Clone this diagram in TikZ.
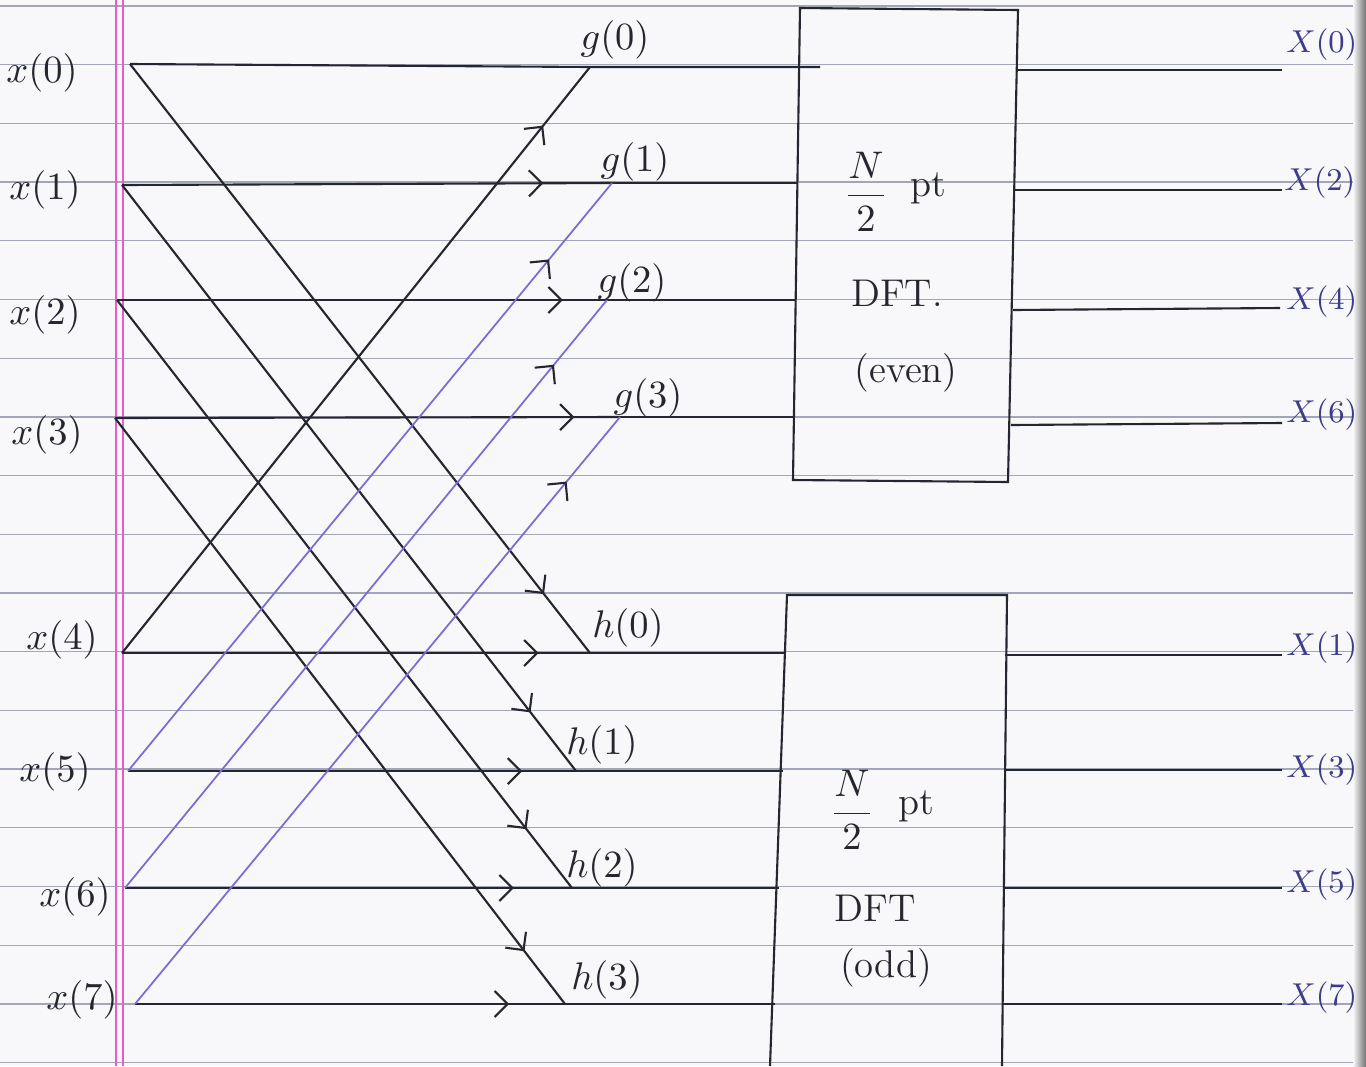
\documentclass[tikz,border=0pt]{standalone}
\usetikzlibrary{arrows.meta,decorations.markings}
\definecolor{ink}{HTML}{262630}
\definecolor{vio}{HTML}{7A6CD8}
\definecolor{rulec}{HTML}{A3A6B8}
\definecolor{marginc}{HTML}{E85CC8}
\definecolor{paper}{HTML}{F8F7F9}
\definecolor{blueink}{HTML}{3C3C8C}
\tikzset{
  wire/.style={draw=ink,line width=0.6pt},
  vwire/.style={draw=vio,line width=0.5pt},
  arrat/.style={postaction={decorate},decoration={markings,mark=at position #1 with {\arrow[ink,line width=0.6pt]{Straight Barb[length=1.3mm,width=2.6mm]}}}},
  lbl/.style={font=\fontsize{11}{13}\selectfont,text=ink,inner sep=1pt},
  olbl/.style={font=\fontsize{9}{11}\selectfont,text=blueink,anchor=west,inner sep=0.5pt},
  boxline/.style={draw=ink,line width=0.6pt},
  ruled/.style={draw=rulec,line width=0.35pt},
  marg/.style={draw=marginc,line width=0.45pt}
}
\begin{document}
\begin{tikzpicture}[x=0.01cm,y=-0.01cm]
\useasboundingbox (0,0) rectangle (1366,1066);
\fill[paper] (0,0) rectangle (1366,1066);
% notebook ruling
\foreach \k in {0,...,18}{
  \draw[ruled] (0,{6+58.7*\k}) -- (1366,{6+58.7*\k});
}
\draw[marg] (116,0) -- (116,1066);
\draw[marg] (123,0) -- (123,1066);
\shade[left color=paper,right color=black!55] (1353,0) rectangle (1366,1066);

% input points
\coordinate (i0) at (130,64);
\coordinate (i1) at (122,185);
\coordinate (i2) at (117,300);
\coordinate (i3) at (115,418);
\coordinate (i4) at (122,653);
\coordinate (i5) at (128,771);
\coordinate (i6) at (125,888);
\coordinate (i7) at (135,1004);
% g and h points
\coordinate (g0) at (590,67);
\coordinate (g1) at (612,183);
\coordinate (g2) at (607,300);
\coordinate (g3) at (620,417);
\coordinate (h0) at (590,653);
\coordinate (h1) at (576,771);
\coordinate (h2) at (572,888);
\coordinate (h3) at (565,1004);
% box corners
\coordinate (EA) at (800,8);
\coordinate (EB) at (1018,10);
\coordinate (EC) at (1008,482);
\coordinate (ED) at (793,480);
\coordinate (OA) at (787,595);
\coordinate (OB) at (1007,595);
\coordinate (OC) at (1002,1066);
\coordinate (OD) at (770,1066);
% box inputs
\coordinate (e0) at (820,67);
\coordinate (e1) at (797,183);
\coordinate (e2) at (795,300);
\coordinate (e3) at (794,417);
\coordinate (o0) at (786,653);
\coordinate (o1) at (783,771);
\coordinate (o2) at (779,888);
\coordinate (o3) at (775,1004);
% box outputs
\coordinate (s0) at (1017,70);
\coordinate (s2) at (1015,190);
\coordinate (s4) at (1013,310);
\coordinate (s6) at (1011,425);
\coordinate (s1) at (1005,655);
\coordinate (s3) at (1004,770);
\coordinate (s5) at (1003,888);
\coordinate (s7) at (1002,1004);
\coordinate (t0) at (1282,70);
\coordinate (t2) at (1282,190);
\coordinate (t4) at (1280,308);
\coordinate (t6) at (1282,423);
\coordinate (t1) at (1282,655);
\coordinate (t3) at (1282,770);
\coordinate (t5) at (1282,888);
\coordinate (t7) at (1282,1004);

% boxes
\draw[boxline] (EA) -- (EB) -- (EC) -- (ED) -- cycle;
\draw[boxline] (OD) -- (OA) -- (OB) -- (OC);

% horizontals to g
\draw[wire] (i0) -- (g0) -- (e0);
\draw[wire,arrat=0.86] (i1) -- (g1);
\draw[wire] (g1) -- (e1);
\draw[wire,arrat=0.91] (i2) -- (g2);
\draw[wire] (g2) -- (e2);
\draw[wire,arrat=0.91] (i3) -- (g3);
\draw[wire] (g3) -- (e3);
% horizontals to h
\draw[wire,arrat=0.89] (i4) -- (h0);
\draw[wire] (h0) -- (o0);
\draw[wire,arrat=0.88] (i5) -- (h1);
\draw[wire] (h1) -- (o1);
\draw[wire,arrat=0.87] (i6) -- (h2);
\draw[wire] (h2) -- (o2);
\draw[wire,arrat=0.87] (i7) -- (h3);
\draw[wire] (h3) -- (o3);
% diagonals down
\draw[wire,arrat=0.9] (i0) -- (h0);
\draw[wire,arrat=0.9] (i1) -- (h1);
\draw[wire,arrat=0.9] (i2) -- (h2);
\draw[wire,arrat=0.91] (i3) -- (h3);
% diagonals up
\draw[wire,arrat=0.9] (i4) -- (g0);
\draw[vwire,arrat=0.87] (i5) -- (g1);
\draw[vwire,arrat=0.89] (i6) -- (g2);
\draw[vwire,arrat=0.89] (i7) -- (g3);

% outputs
\foreach \n in {0,...,7}{ \draw[wire] (s\n) -- (t\n); }

% input labels
\node[lbl] (lx0) at (42,73) {$x(0)$};
\node[lbl] (lx1) at (45,190) {$x(1)$};
\node[lbl] (lx2) at (45,315) {$x(2)$};
\node[lbl] (lx3) at (47,435) {$x(3)$};
\node[lbl] (lx4) at (62,640) {$x(4)$};
\node[lbl] (lx5) at (55,772) {$x(5)$};
\node[lbl] (lx6) at (75,897) {$x(6)$};
\node[lbl] (lx7) at (82,1000) {$x(7)$};
% g, h labels
\node[lbl] (lg0) at (615,40) {$g(0)$};
\node[lbl] (lg1) at (635,162) {$g(1)$};
\node[lbl] (lg2) at (632,283) {$g(2)$};
\node[lbl] (lg3) at (648,398) {$g(3)$};
\node[lbl] (lh0) at (628,628) {$h(0)$};
\node[lbl] (lh1) at (602,745) {$h(1)$};
\node[lbl] (lh2) at (602,868) {$h(2)$};
\node[lbl] (lh3) at (607,980) {$h(3)$};
% box texts
\node[lbl] (ef) at (866,192) {$\displaystyle\frac{N}{2}$};
\node[lbl] (ep) at (928,188) {pt};
\node[lbl] (ed) at (897,293) {DFT.};
\node[lbl] (ee) at (906,373) {(even)};
\node[lbl] (of) at (852,810) {$\displaystyle\frac{N}{2}$};
\node[lbl] (op) at (916,806) {pt};
\node[lbl] (od) at (875,908) {DFT};
\node[lbl] (oo) at (886,968) {(odd)};
% output labels
\node[olbl] (X0) at (1284,45) {$X(0)$};
\node[olbl] (X2) at (1282,183) {$X(2)$};
\node[olbl] (X4) at (1284,302) {$X(4)$};
\node[olbl] (X6) at (1284,415) {$X(6)$};
\node[olbl] (X1) at (1284,648) {$X(1)$};
\node[olbl] (X3) at (1284,770) {$X(3)$};
\node[olbl] (X5) at (1284,885) {$X(5)$};
\node[olbl] (X7) at (1284,998) {$X(7)$};
\end{tikzpicture}
\end{document}
